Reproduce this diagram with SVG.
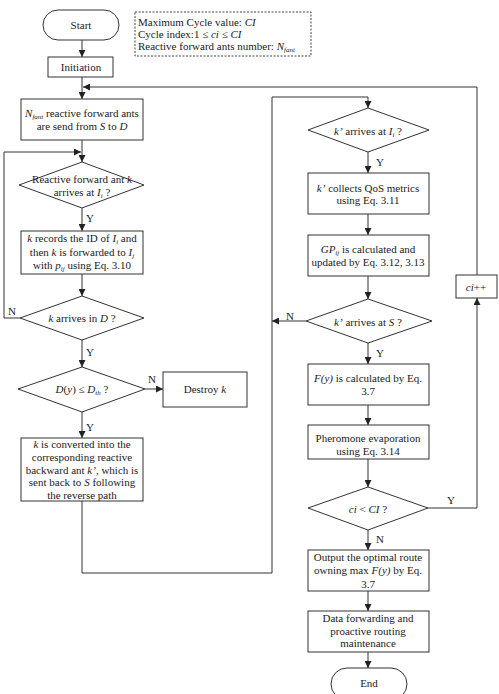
<svg xmlns="http://www.w3.org/2000/svg" width="499" height="694" viewBox="0 0 499 694">
<style>
  .s{fill:#fff;stroke:#333;stroke-width:1}
  .c{fill:none;stroke:#333;stroke-width:1}
  text{font-family:"Liberation Serif","Times New Roman",serif;font-size:11px;fill:#222}
  .m{text-anchor:middle}
  .i{font-style:italic}
  .sub{font-size:7px;font-style:italic}
</style>
<defs>
  <marker id="a" viewBox="0 0 8 8" refX="8" refY="4" markerWidth="7" markerHeight="7" markerUnits="userSpaceOnUse" orient="auto">
    <path d="M0,0 L8,4 L0,8 Z" fill="#222"/>
  </marker>
</defs>
<rect width="499" height="694" fill="#fff"/>

<g id="connectors">
  <path class="c" d="M82,40 V57" marker-end="url(#a)"/>
  <path class="c" d="M82,77 V99" marker-end="url(#a)"/>
  <path class="c" d="M477,275 V87 H83" marker-end="url(#a)"/>
  <path class="c" d="M82,140 V162" marker-end="url(#a)"/>
  <path class="c" d="M82,208 V231" marker-end="url(#a)"/>
  <path class="c" d="M82,274 V296" marker-end="url(#a)"/>
  <path class="c" d="M20,318 H4 V152 H81" marker-end="url(#a)"/>
  <path class="c" d="M82,340 V367" marker-end="url(#a)"/>
  <path class="c" d="M145,389 H163" marker-end="url(#a)"/>
  <path class="c" d="M82,412 V438" marker-end="url(#a)"/>
  <path class="c" d="M82,501 V573 H272 V97 H368 V108" marker-end="url(#a)"/>
  <path class="c" d="M368,152 V173" marker-end="url(#a)"/>
  <path class="c" d="M368,214 V235" marker-end="url(#a)"/>
  <path class="c" d="M368,276 V299" marker-end="url(#a)"/>
  <path class="c" d="M306,321 H272" marker-end="url(#a)"/>
  <path class="c" d="M368,343 V364" marker-end="url(#a)"/>
  <path class="c" d="M368,405 V425" marker-end="url(#a)"/>
  <path class="c" d="M368,459 V487" marker-end="url(#a)"/>
  <path class="c" d="M428,508 H477 V298" marker-end="url(#a)"/>
  <path class="c" d="M368,530 V550" marker-end="url(#a)"/>
  <path class="c" d="M368,591 V611" marker-end="url(#a)"/>
  <path class="c" d="M368,652 V668" marker-end="url(#a)"/>
  <text x="86" y="222">Y</text>
  <text x="8" y="315">N</text>
  <text x="86" y="356">Y</text>
  <text x="148" y="383">N</text>
  <text x="86" y="431">Y</text>
  <text x="376" y="166">Y</text>
  <text x="286" y="320">N</text>
  <text x="376" y="357">Y</text>
  <text x="447" y="504">Y</text>
  <text x="376" y="543">N</text>
</g>

<g id="legend">
  <rect x="135" y="12" width="176" height="44" fill="#fff" stroke="#444" stroke-width="1" stroke-dasharray="2,1.5"/>
  <text x="138" y="26">Maximum Cycle value: <tspan class="i">CI</tspan></text>
  <text x="138" y="38">Cycle index:1 ≤ <tspan class="i">ci</tspan> ≤ <tspan class="i">CI</tspan></text>
  <text x="138" y="50">Reactive forward ants number: <tspan class="i">N</tspan><tspan class="sub" dy="2">fant</tspan></text>
</g>

<g id="start">
  <rect class="s" x="43" y="10" width="76" height="30" rx="15"/>
  <text class="m" x="81" y="29">Start</text>
</g>

<g id="initiation">
  <rect class="s" x="48" y="57" width="65" height="20"/>
  <text class="m" x="81" y="71">Initiation</text>
</g>

<g id="send">
  <rect class="s" x="21" y="99" width="122" height="41"/>
  <text class="m" x="82" y="117"><tspan class="i">N</tspan><tspan class="sub" dy="2">fant</tspan><tspan dy="-2"> reactive forward ants</tspan></text>
  <text class="m" x="82" y="130">are send from <tspan class="i">S</tspan> to <tspan class="i">D</tspan></text>
</g>

<g id="d1">
  <polygon class="s" points="19,185 82,162 144,185 82,208"/>
  <text class="m" x="82" y="183">Reactive forward ant <tspan class="i">k</tspan></text>
  <text class="m" x="82" y="196">arrives at <tspan class="i">I</tspan><tspan class="sub" dy="2">i</tspan><tspan dy="-2"> ?</tspan></text>
</g>

<g id="record">
  <rect class="s" x="21" y="231" width="122" height="43"/>
  <text class="m" x="82" y="242"><tspan class="i">k</tspan> records the ID of <tspan class="i">I</tspan><tspan class="sub" dy="2">i</tspan><tspan dy="-2">  and</tspan></text>
  <text class="m" x="82" y="256">then <tspan class="i">k</tspan> is forwarded to <tspan class="i">I</tspan><tspan class="sub" dy="2">j</tspan></text>
  <text class="m" x="82" y="269">with  <tspan class="i">p</tspan><tspan class="sub" dy="2">ij</tspan><tspan dy="-2"> using Eq. 3.10</tspan></text>
</g>

<g id="d2">
  <polygon class="s" points="20,318 82,296 144,318 82,340"/>
  <text class="m" x="82" y="322"><tspan class="i">k</tspan> arrives in <tspan class="i">D</tspan> ?</text>
</g>

<g id="d3">
  <polygon class="s" points="18,389 82,367 145,389 82,412"/>
  <text class="m" x="82" y="393"><tspan class="i">D</tspan>(<tspan class="i">y</tspan>) ≤ <tspan class="i">D</tspan><tspan class="sub" dy="2">th</tspan><tspan dy="-2">  ?</tspan></text>
</g>

<g id="destroy">
  <rect class="s" x="163" y="372" width="84" height="35"/>
  <text class="m" x="205" y="393">Destroy <tspan class="i">k</tspan></text>
</g>

<g id="convert">
  <rect class="s" x="21" y="438" width="122" height="63"/>
  <text class="m" x="82" y="448"><tspan class="i">k</tspan> is converted into the</text>
  <text class="m" x="82" y="461">corresponding reactive</text>
  <text class="m" x="82" y="474">backward ant <tspan class="i">k’</tspan>, which is</text>
  <text class="m" x="82" y="486">sent back to <tspan class="i">S</tspan> following</text>
  <text class="m" x="82" y="499">the reverse path</text>
</g>

<g id="d4">
  <polygon class="s" points="308,130 368,108 429,130 368,152"/>
  <text class="m" x="368" y="135"><tspan class="i">k’</tspan> arrives at <tspan class="i">I</tspan><tspan class="sub" dy="2">i</tspan><tspan dy="-2"> ?</tspan></text>
</g>

<g id="qos">
  <rect class="s" x="308" y="173" width="121" height="41"/>
  <text class="m" x="368" y="192"><tspan class="i">k’</tspan> collects QoS metrics</text>
  <text class="m" x="368" y="204">using Eq. 3.11</text>
</g>

<g id="gp">
  <rect class="s" x="308" y="235" width="121" height="41"/>
  <text class="m" x="368" y="253"><tspan class="i">GP</tspan><tspan class="sub" dy="2">ij</tspan><tspan dy="-2">  is calculated and</tspan></text>
  <text class="m" x="368" y="266">updated by Eq. 3.12, 3.13</text>
</g>

<g id="d5">
  <polygon class="s" points="306,321 368,299 432,321 368,343"/>
  <text class="m" x="368" y="326"><tspan class="i">k’</tspan> arrives at <tspan class="i">S</tspan> ?</text>
</g>

<g id="fy">
  <rect class="s" x="308" y="364" width="121" height="41"/>
  <text class="m" x="368" y="382"><tspan class="i">F(y)</tspan> is calculated by Eq.</text>
  <text class="m" x="368" y="395">3.7</text>
</g>

<g id="pheromone">
  <rect class="s" x="308" y="425" width="121" height="34"/>
  <text class="m" x="368" y="442">Pheromone evaporation</text>
  <text class="m" x="368" y="455">using Eq. 3.14</text>
</g>

<g id="d6">
  <polygon class="s" points="308,508 368,487 428,508 368,530"/>
  <text class="m" x="368" y="513"><tspan class="i">ci</tspan> &lt; <tspan class="i">CI</tspan> ?</text>
</g>

<g id="ciinc">
  <rect class="s" x="456" y="275" width="41" height="23"/>
  <text class="m" x="476" y="291"><tspan class="i">ci</tspan>++</text>
</g>

<g id="output">
  <rect class="s" x="308" y="550" width="121" height="41"/>
  <text class="m" x="368" y="561">Output the optimal route</text>
  <text class="m" x="368" y="574">owning max <tspan class="i">F(y)</tspan>  by Eq.</text>
  <text class="m" x="368" y="588">3.7</text>
</g>

<g id="data">
  <rect class="s" x="308" y="611" width="121" height="41"/>
  <text class="m" x="368" y="622">Data forwarding and</text>
  <text class="m" x="368" y="635">proactive routing</text>
  <text class="m" x="368" y="647">maintenance</text>
</g>

<g id="end">
  <rect class="s" x="331" y="668" width="76" height="32" rx="16"/>
  <text class="m" x="369" y="687">End</text>
</g>
</svg>
